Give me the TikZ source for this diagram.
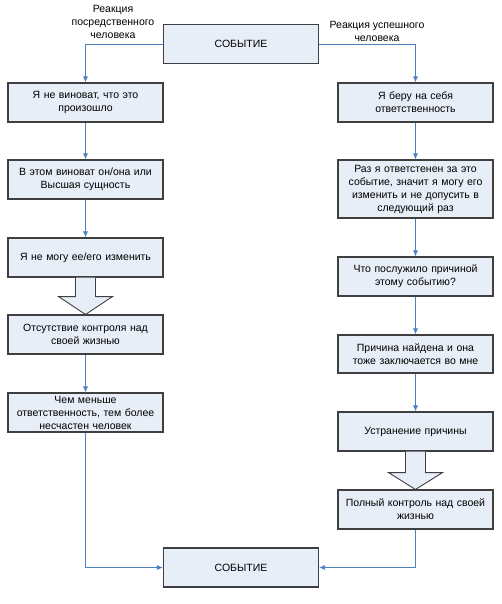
\documentclass[tikz,border=0pt]{standalone}
\usepackage{fontspec}
\setmainfont{Liberation Sans}
\usetikzlibrary{calc,arrows.meta}
\definecolor{boxfill}{HTML}{E8EEF7}
\definecolor{boxline}{HTML}{3F3F3F}
\definecolor{arrowc}{HTML}{4F81BD}
\begin{document}
\begin{tikzpicture}[x=1pt,y=-1pt,
  box/.style={draw=boxline,fill=boxfill,line width=1.1pt,minimum width=155pt,minimum height=39pt,
    inner sep=0pt,text width=150pt,align=center,font=\fontsize{10.5}{13}\selectfont},
  conn/.style={draw=arrowc,line width=0.8pt,-{Latex[length=6pt,width=5pt]}},
  lbl/.style={align=center,font=\fontsize{10.5}{13}\selectfont,inner sep=0pt},
  blockarrow/.style={draw=boxline,fill=boxfill,line width=0.9pt,line join=miter}]
\useasboundingbox (0,0) rectangle (502,604);
\node[box] (top) at (241,44) {СОБЫТИЕ};
\node[box] (bot) at (241,567.5) {СОБЫТИЕ};
\node[box] (L1) at (85.5,102.5) {Я не виноват, что это\\произошло};
\node[box] (L2) at (85.5,179.5) {В этом виноват он/она или\\Высшая сущность};
\node[box] (L3) at (85.5,257.5) {Я не могу ее/его изменить};
\node[box] (L4) at (85.5,334.5) {Отсутствие контроля над\\своей жизнью};
\node[box] (L5) at (85.5,412.5) {Чем меньше\\ответственность, тем более\\несчастен человек};
\node[box] (R1) at (415.5,102.5) {Я беру на себя\\ответственность};
\node[box,minimum height=58pt] (R2) at (415.5,189) {Раз я ответстенен за это\\событие, значит я могу его\\изменить и не допусить в\\следующий раз};
\node[box] (R3) at (415.5,276.5) {Что послужило причиной\\этому событию?};
\node[box,minimum height=38pt] (R4) at (415.5,354) {Причина найдена и она\\тоже заключается во мне};
\node[box] (R5) at (415.5,431.5) {Устранение причины};
\node[box] (R6) at (415.5,509.5) {Полный контроль над своей\\жизнью};
\node[lbl] (lab1) at (113,22) {Реакция\\посредственного\\человека};
\node[lbl] (lab2) at (377,31) {Реакция успешного\\человека};
\draw[conn] (top.west) -| (L1.north);
\draw[conn] (top.east) -| (R1.north);
\draw[conn] (L1) -- (L2);
\draw[conn] (L2) -- (L3);
\draw[conn] (L4) -- (L5);
\draw[conn] (L5.south) |- (bot.west);
\draw[conn] (R1) -- (R2);
\draw[conn] (R2) -- (R3);
\draw[conn] (R3) -- (R4);
\draw[conn] (R4) -- (R5);
\draw[conn] (R6.south) |- (bot.east);
\coordinate (a1) at (L3.south);
\coordinate (a2) at (L4.north);
\draw[blockarrow] ($(a1)+(-10,0)$) -- ($(a1)+(-10,19)$) -- ($(a1)+(-27,19)$) -- (a2)
  -- ($(a1)+(27,19)$) -- ($(a1)+(10,19)$) -- ($(a1)+(10,0)$);
\coordinate (b1) at (R5.south);
\coordinate (b2) at (R6.north);
\draw[blockarrow] ($(b1)+(-10,0)$) -- ($(b1)+(-10,21)$) -- ($(b1)+(-27,21)$) -- (b2)
  -- ($(b1)+(27,21)$) -- ($(b1)+(10,21)$) -- ($(b1)+(10,0)$);
\end{tikzpicture}
\end{document}
